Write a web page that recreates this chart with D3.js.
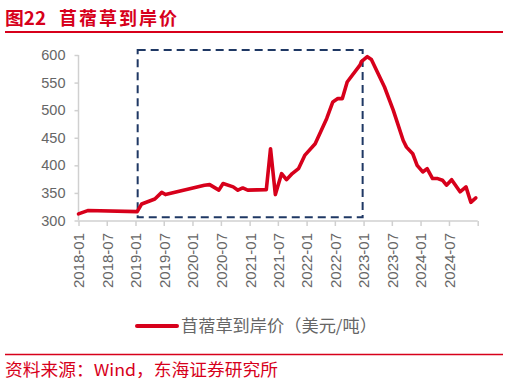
<!DOCTYPE html>
<html><head><meta charset="utf-8">
<script src="https://cdn.jsdelivr.net/npm/d3@7"></script>
<style>
body{margin:0;background:#fff;}
svg{display:block;font-family:"Liberation Sans",Arial,sans-serif;}
.cjk{font-family:"Noto Sans CJK SC","Liberation Sans",sans-serif;}
</style></head>
<body>
<svg id="c" width="509" height="384"></svg>
<script>
const titleNo = "图22";
const titleText = "苜蓿草到岸价";
const seriesName = "苜蓿草到岸价（美元/吨）";
const sourceText = "资料来源：Wind，东海证券研究所";
const dates = ["2018-01-01","2018-03-01","2019-01-12","2019-02-10","2019-05-05","2019-06-18","2019-07-12",
"2020-03-18","2020-04-20","2020-06-18","2020-07-15","2020-09-18","2020-10-18","2020-11-18","2020-12-20",
"2021-04-18","2021-05-15","2021-06-15","2021-07-25","2021-08-25","2021-10-01","2021-11-10","2021-12-20",
"2022-02-25","2022-05-10","2022-06-18","2022-07-20","2022-08-18","2022-09-18","2022-12-10","2022-12-18",
"2023-01-25","2023-02-20","2023-05-15","2023-07-10","2023-09-12","2023-10-03","2023-11-12","2023-12-10",
"2024-01-15","2024-02-12","2024-03-18","2024-04-20","2024-05-20","2024-06-15","2024-07-18","2024-09-10",
"2024-10-18","2024-11-18","2024-12-20"];
const prices = [312,318,316,330,339,351,347,
364,365,355,367,361,355,359,355,
356,430,347,385,374,385,394,418,
439,485,515,521,521,551,582,588,
597,592,542,500,445,433,421,400,
388,394,376,376,373,364,374,352,
361,333,341];
const yTicks = [300,350,400,450,500,550,600];
const xTickDates = ["2018-01-01","2018-07-01","2019-01-01","2019-07-01","2020-01-01","2020-07-01","2021-01-01","2021-07-01","2022-01-01","2022-07-01","2023-01-01","2023-07-01","2024-01-01","2024-07-01","2025-01-01"];
const xTickLabels = ["2018-01","2018-07","2019-01","2019-07","2020-01","2020-07","2021-01","2021-07","2022-01","2022-07","2023-01","2023-07","2024-01","2024-07",""];
const boxDates = ["2019-01-15","2022-12-26"];
const boxValues = [306,609];

const parse = d3.timeParse("%Y-%m-%d");
const data = dates.map((d,i)=>({d:parse(d),v:prices[i]}));
const svg = d3.select("#c");
const red = "#d7001b";

const x = d3.scaleTime().domain([parse("2018-01-01"),parse("2025-01-01")]).range([78.5,477.7]);
const y = d3.scaleLinear().domain([300,600]).range([220.5,55]);

// title
svg.append("text").attr("class","cjk").attr("x",5).attr("y",25).attr("fill",red)
  .attr("font-size",18).attr("font-weight","bold").attr("textLength",41).attr("lengthAdjust","spacingAndGlyphs").text(titleNo);
svg.append("text").attr("class","cjk").attr("x",59).attr("y",25).attr("fill",red)
  .attr("font-size",18).attr("font-weight","bold").attr("textLength",118).attr("lengthAdjust","spacing").text(titleText);
svg.append("line").attr("x1",5).attr("x2",503).attr("y1",32).attr("y2",32).attr("stroke",red).attr("stroke-width",2);

// y axis
const ya = svg.append("g").attr("transform","translate(78.5,0)")
  .call(d3.axisLeft(y).tickValues(yTicks).tickSize(4).tickPadding(9).tickFormat(d3.format("d")));
ya.select(".domain").attr("stroke","#d0d0d0").attr("stroke-width",1.5).attr("d","M0,55V220.5");
ya.selectAll(".tick line").attr("stroke","#d0d0d0").attr("stroke-width",1.5);
ya.selectAll(".tick text").attr("fill","#666").attr("font-size",14.5).attr("font-family","Liberation Sans, Arial, sans-serif");

// x axis
const xa = svg.append("g").attr("transform","translate(0,221)")
  .call(d3.axisBottom(x).tickValues(xTickDates.map(parse)).tickSize(5).tickFormat((d,i)=>xTickLabels[i]));
xa.select(".domain").attr("stroke","#d0d0d0").attr("stroke-width",1.5).attr("d","M78.5,0H477.7");
xa.selectAll(".tick line").attr("stroke","#d0d0d0").attr("stroke-width",1.5);
xa.selectAll(".tick text").attr("fill","#666").attr("font-size",15)
  .attr("font-family","Liberation Sans, Arial, sans-serif")
  .attr("text-anchor","end").attr("transform","rotate(-90)").attr("x",-12).attr("y",0).attr("dy","0.36em")
  .attr("textLength",55).attr("lengthAdjust","spacingAndGlyphs");

// dashed highlight box
svg.append("rect")
  .attr("x",x(parse(boxDates[0]))).attr("y",y(boxValues[1]))
  .attr("width",x(parse(boxDates[1]))-x(parse(boxDates[0])))
  .attr("height",y(boxValues[0])-y(boxValues[1]))
  .attr("fill","none").attr("stroke","#1f3864").attr("stroke-width",2).attr("stroke-dasharray","8,5");

// line
svg.append("path").datum(data)
  .attr("d",d3.line().x(d=>x(d.d)).y(d=>y(d.v)))
  .attr("fill","none").attr("stroke",red).attr("stroke-width",3.6)
  .attr("stroke-linejoin","round").attr("stroke-linecap","round");

// legend
svg.append("line").attr("x1",137).attr("x2",177).attr("y1",326).attr("y2",326)
  .attr("stroke",red).attr("stroke-width",4).attr("stroke-linecap","round");
svg.append("text").attr("class","cjk").attr("x",181).attr("y",332).attr("fill","#666")
  .attr("font-size",16.5).attr("textLength",196).attr("lengthAdjust","spacingAndGlyphs").text(seriesName);

// source
svg.append("line").attr("x1",5).attr("x2",503).attr("y1",354.5).attr("y2",354.5).attr("stroke",red).attr("stroke-width",1.5);
svg.append("text").attr("class","cjk").attr("x",5).attr("y",376).attr("fill",red)
  .attr("font-size",16.5).attr("textLength",273).attr("lengthAdjust","spacingAndGlyphs").text(sourceText);
</script>
</body></html>
